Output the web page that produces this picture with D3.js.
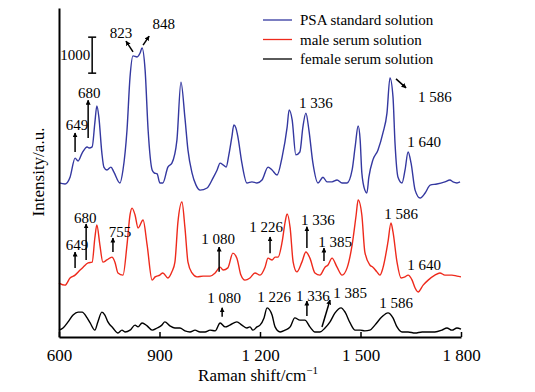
<!DOCTYPE html>
<html><head><meta charset="utf-8">
<script src="https://cdn.jsdelivr.net/npm/d3@7"></script>
<style>
body{margin:0;background:#fff;}
svg text{font-family:"Liberation Serif","Times New Roman",serif !important;fill:#000;}
</style></head>
<body>
<svg id="c" width="535" height="392"></svg>
<script>
// ---- data ----
const xTicks = [600, 900, 1200, 1500, 1800];
const xTickLabels = ["600", "900", "1 200", "1 500", "1 800"];
const seriesNames = ["PSA standard solution", "male serum solution", "female serum solution"];
const seriesColors = ["#3438a0", "#ee2a1c", "#000000"];

const psaWave = [600,618,633,648,657,669,684,690,699,707,713,719,728,734,743,755,764,782,791,803,812,821,833,842,848,857,866,878,884,893,901,910,925,937,952,964,976,985,997,1009,1021,1042,1060,1072,1081,1090,1099,1107,1116,1122,1128,1134,1146,1161,1176,1191,1206,1224,1236,1251,1266,1281,1287,1296,1307,1319,1328,1337,1346,1358,1373,1388,1400,1415,1430,1445,1460,1475,1484,1493,1499,1504,1513,1519,1525,1537,1552,1567,1579,1588,1597,1603,1612,1624,1633,1642,1651,1663,1678,1693,1708,1728,1752,1767,1776,1788,1797];
const psaInt  = [4280,4250,4440,4970,4890,5110,5280,5250,5280,5950,6420,6110,5110,4720,4640,4720,4580,4280,4640,5750,7220,7810,7780,7890,8030,7420,5750,4640,4560,4530,4280,4280,4720,4830,5470,7080,6080,5190,4560,4220,4080,4140,4420,4640,4830,4780,4720,5060,5560,5890,5810,5560,4830,4280,4310,4280,4360,4720,4640,4500,5000,5830,6310,6030,5060,5140,5830,6220,5750,4830,4280,4440,4310,4310,4360,4280,4280,4640,5280,5860,5470,4560,4080,4000,4440,4920,5190,5670,6220,7200,6670,5390,4440,4280,4640,5140,4830,4080,3860,4000,4220,4250,4310,4360,4310,4280,4310];

const maleWave = [600,618,633,648,663,672,687,699,707,713,722,731,743,758,767,776,791,803,812,818,827,836,851,863,878,887,901,910,925,937,946,955,967,976,985,997,1012,1030,1051,1066,1081,1090,1104,1119,1131,1143,1155,1170,1185,1200,1215,1224,1236,1245,1254,1266,1275,1281,1290,1299,1310,1325,1337,1349,1364,1379,1394,1403,1415,1430,1445,1460,1475,1487,1493,1504,1513,1528,1537,1549,1558,1567,1582,1591,1597,1609,1621,1633,1642,1654,1663,1672,1687,1702,1722,1737,1752,1773,1788,1800];
const maleInt  = [1500,1440,1640,1720,1860,1940,2060,2080,2750,3110,2560,2080,2140,2220,2080,1780,1720,2560,3390,3580,3390,3030,3250,2560,1580,1670,1720,1780,1640,1810,2080,3190,3750,3030,2080,1780,1670,1690,1690,1780,1940,1860,1920,2330,2190,1720,1580,1640,1780,1720,1940,2190,2140,2220,2220,2640,3190,3420,3030,2080,1810,2080,2360,2190,1780,1720,1940,2000,2190,1940,1720,1920,2560,3390,3810,3390,2360,2000,1940,1810,1720,1920,2640,3170,2920,2080,1640,1670,1720,1580,1360,1250,1440,1580,1720,1780,1720,1720,1690,1670];

const femaleWave = [600,612,627,642,657,669,684,693,707,716,728,737,746,761,776,788,797,812,827,836,848,863,878,893,907,916,931,946,961,976,991,1006,1021,1036,1051,1066,1081,1096,1110,1131,1146,1161,1170,1179,1191,1200,1212,1221,1236,1245,1260,1275,1290,1304,1319,1334,1349,1364,1379,1394,1409,1424,1442,1454,1469,1484,1499,1513,1528,1543,1564,1582,1597,1609,1624,1642,1663,1684,1702,1722,1743,1758,1773,1788,1800];
const femaleInt  = [190,250,420,610,690,690,530,390,190,420,690,610,420,250,110,190,140,190,330,280,390,310,190,250,330,420,310,250,250,170,140,190,140,140,190,170,390,280,330,420,330,250,280,190,280,330,530,810,610,280,140,190,280,530,470,470,280,140,140,250,420,670,810,690,390,190,190,170,190,330,560,670,530,280,140,140,110,140,140,140,190,250,190,250,220];

// peak annotations: label, text position (wavenumber, a.u.), optional arrow (from -> to, wavenumber/a.u.)
const peakLabels = [
  {t:"649",  x:654,  y:5750, a:[648,5140,648,5670]},
  {t:"680",  x:690,  y:6640, a:[687,5530,687,6580]},
  {t:"823",  x:785,  y:8310, a:[821,7920,800,8220]},
  {t:"848",  x:913,  y:8560, a:[851,8110,869,8360]},
  {t:"1 336",x:1367, y:6360},
  {t:"1 586",x:1722, y:6530, a:[1606,7170,1636,6920]},
  {t:"1 640",x:1690, y:5280},
  {t:"649",  x:654,  y:2420, a:[648,1920,648,2360]},
  {t:"680",  x:678,  y:3170, a:[681,2140,681,3140]},
  {t:"755",  x:782,  y:2780, a:[761,2360,761,2750]},
  {t:"1 080",x:1075, y:2580, a:[1078,1810,1078,2500]},
  {t:"1 226",x:1218, y:2920, a:[1230,2330,1230,2780]},
  {t:"1 336",x:1373, y:3110, a:[1340,2470,1340,3060]},
  {t:"1 385",x:1424, y:2500, a:[1391,2110,1391,2470]},
  {t:"1 586",x:1621, y:3280},
  {t:"1 640",x:1690, y:1860},
  {t:"1 080",x:1093, y:940,  a:[1087,560,1087,810]},
  {t:"1 226",x:1242, y:970},
  {t:"1 336",x:1358, y:1000, a:[1340,580,1340,1000]},
  {t:"1 385",x:1469, y:1080, a:[1385,280,1409,1030]},
  {t:"1 586",x:1606, y:810}
];
const scaleBar = {x:699, y0:7330, len:1000, label:"1000"};

// ---- chart ----
const FONT = '"Liberation Serif","Times New Roman",serif';
const svg = d3.select("#c");
const M = {left:59, right:461, top:8, bottom:337};
const x = d3.scaleLinear().domain([600,1800]).range([M.left, M.right]);
const y = d3.scaleLinear().domain([0,9140]).range([M.bottom, M.top]);

const defs = svg.append("defs");
defs.append("marker").attr("id","ah").attr("viewBox","0 0 10 10")
  .attr("refX",9).attr("refY",5).attr("markerWidth",5).attr("markerHeight",5)
  .attr("orient","auto").attr("markerUnits","userSpaceOnUse")
  .append("path").attr("d","M0,0 L10,5 L0,10 Z").attr("fill","#000");

const series = [
  {w:psaWave, v:psaInt},
  {w:maleWave, v:maleInt},
  {w:femaleWave, v:femaleInt}
];
const line = d3.line().x(d=>x(d[0])).y(d=>y(d[1])).curve(d3.curveMonotoneX);
series.forEach((s,i)=>{
  const pts = s.w.map((w,j)=>[w, s.v[j]]);
  svg.append("path").datum(pts).attr("d",line).attr("fill","none")
    .attr("stroke",seriesColors[i]).attr("stroke-width",1.4).attr("stroke-linejoin","round");
});

// axes
const xAxis = d3.axisBottom(x).tickValues(xTicks).tickFormat((d,i)=>xTickLabels[i]).tickSizeInner(-5).tickSizeOuter(0).tickPadding(12);
const gx = svg.append("g").attr("transform",`translate(0,${M.bottom})`).call(xAxis).attr("font-family",null);
gx.select(".domain").attr("stroke","#000").attr("stroke-width",2);
gx.selectAll(".tick line").attr("stroke","#000").attr("stroke-width",1.5);
gx.selectAll(".tick text").style("font-size","17px").style("font-family",FONT);

const yAxis = d3.axisLeft(y).tickValues([]).tickSizeOuter(0);
const gy = svg.append("g").attr("transform",`translate(${M.left},0)`).call(yAxis);
gy.select(".domain").attr("stroke","#000").attr("stroke-width",2);

svg.append("text").attr("x",258).attr("y",381).attr("text-anchor","middle")
  .style("font-size","17px").style("font-family",FONT)
  .html('Raman shift/cm<tspan dy="-7" style="font-size:11px">−1</tspan>');
svg.append("text").attr("transform","translate(44,172) rotate(-90)").attr("text-anchor","middle")
  .style("font-size","17px").style("font-family",FONT).text("Intensity/a.u.");

// legend
const lg = svg.append("g");
seriesNames.forEach((n,i)=>{
  const yy = 20 + i*19.5;
  lg.append("line").attr("x1",263).attr("x2",292).attr("y1",yy).attr("y2",yy)
    .attr("stroke",seriesColors[i]).attr("stroke-width",1.3);
  lg.append("text").attr("x",300).attr("y",yy+5).style("font-size","15px").style("font-family",FONT).text(n);
});

// scale bar
const sb = svg.append("g").attr("stroke","#000").attr("stroke-width",1.5);
sb.append("line").attr("x1",x(scaleBar.x)).attr("x2",x(scaleBar.x)).attr("y1",y(scaleBar.y0)).attr("y2",y(scaleBar.y0+scaleBar.len));
[scaleBar.y0, scaleBar.y0+scaleBar.len].forEach(v=>{
  sb.append("line").attr("x1",x(scaleBar.x)-4).attr("x2",x(scaleBar.x)+4).attr("y1",y(v)).attr("y2",y(v));
});
svg.append("text").attr("x",x(scaleBar.x)-2).attr("y",y(scaleBar.y0+scaleBar.len/2)+5)
  .attr("text-anchor","end").style("font-size","15px").style("font-family",FONT).text(scaleBar.label);

// peak labels
peakLabels.forEach(p=>{
  svg.append("text").attr("x",x(p.x)).attr("y",y(p.y)).attr("text-anchor","middle")
    .style("font-size","15px").style("font-family",FONT).text(p.t);
  if(p.a){
    svg.append("line").attr("x1",x(p.a[0])).attr("y1",y(p.a[1])).attr("x2",x(p.a[2])).attr("y2",y(p.a[3]))
      .attr("stroke","#000").attr("stroke-width",1.5).attr("marker-end","url(#ah)");
  }
});
</script>
</body></html>
